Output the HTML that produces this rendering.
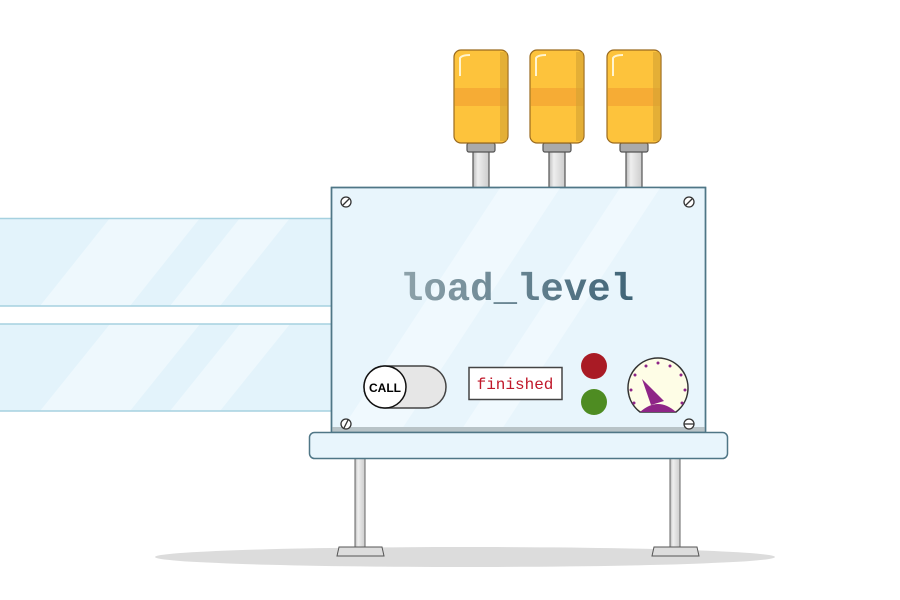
<!DOCTYPE html>
<html><head><meta charset="utf-8"><style>html,body{margin:0;padding:0;background:#fff}svg{display:block}</style></head>
<body>
<svg width="900" height="600" viewBox="0 0 900 600" xmlns="http://www.w3.org/2000/svg">
<defs>
<linearGradient id="tg" x1="0" x2="1"><stop offset="0" stop-color="#8fa3ab"/><stop offset="1" stop-color="#3f6477"/></linearGradient>
<linearGradient id="post" x1="0" x2="1"><stop offset="0" stop-color="#bbb"/><stop offset="0.3" stop-color="#eee"/><stop offset="1" stop-color="#ccc"/></linearGradient>
</defs>
<ellipse cx="465" cy="557" rx="310" ry="10" fill="#dcdcdc"/>
<g>
<rect x="0" y="218" width="332" height="88" fill="#e3f3fb"/>
<polygon points="110,218 200,218 130,306 40,306" fill="#eef8fd"/>
<polygon points="240,218 290,218 220,306 170,306" fill="#eef8fd"/>
<line x1="0" y1="218.5" x2="332" y2="218.5" stroke="#a6d1e0" stroke-width="1.5"/>
<line x1="0" y1="306" x2="332" y2="306" stroke="#a6d1e0" stroke-width="1.5"/>
<rect x="0" y="324" width="332" height="87" fill="#e3f3fb"/>
<polygon points="110,324 200,324 130,411 40,411" fill="#eef8fd"/>
<polygon points="240,324 290,324 220,411 170,411" fill="#eef8fd"/>
<line x1="0" y1="324" x2="332" y2="324" stroke="#a6d1e0" stroke-width="1.5"/>
<line x1="0" y1="411" x2="332" y2="411" stroke="#a6d1e0" stroke-width="1.5"/>
</g>
<g stroke="#555" stroke-width="1.2">
<g id="L">
<rect x="473" y="150" width="16" height="38" fill="url(#post)"/>
<rect x="467" y="143" width="28" height="9" rx="2" fill="#aaa"/>
<rect x="454" y="50" width="54" height="93" rx="7" fill="#fdc33c" stroke="#9a6a1f"/>
<rect x="455" y="88" width="52" height="18" fill="#f6ac35" stroke="none"/>
<rect x="500" y="52" width="7" height="89" fill="#d4a232" stroke="none" opacity="0.6"/>
<path d="M460 76 L460 58 Q462 55 470 55" fill="none" stroke="#fff4d0" stroke-width="2"/>
</g>
<use href="#L" x="76"/>
<use href="#L" x="153"/>
</g>
<rect x="355" y="458" width="10" height="90" fill="url(#post)" stroke="#666"/>
<rect x="670" y="458" width="10" height="90" fill="url(#post)" stroke="#666"/>
<path d="M337 556 L339 547 L382 547 L384 556 Z" fill="#ddd" stroke="#555"/>
<path d="M652 556 L654 547 L697 547 L699 556 Z" fill="#ddd" stroke="#555"/>
<rect x="331.5" y="187.5" width="374" height="245" fill="#e8f5fc" stroke="#4f7686" stroke-width="1.5"/>
<polygon points="500,188 560,188 400,432 340,432" fill="#f0f9fe"/>
<polygon points="620,188 660,188 500,432 460,432" fill="#f0f9fe"/>
<rect x="332" y="427" width="373" height="5" fill="#b8c3c7"/>
<rect x="331.5" y="187.5" width="374" height="245" fill="none" stroke="#4f7686" stroke-width="1.5"/>
<g fill="#fff" stroke="#333" stroke-width="1.3">
<circle cx="346" cy="202" r="5"/><line x1="343" y1="205" x2="349" y2="199"/>
<circle cx="689" cy="202" r="5"/><line x1="686" y1="205" x2="692" y2="199"/>
<circle cx="346" cy="424" r="5"/><line x1="344" y1="428" x2="348" y2="420"/>
<circle cx="689" cy="424" r="5"/><line x1="684" y1="424" x2="694" y2="424"/>
</g>
<text x="517" y="300" text-anchor="middle" font-family="Liberation Mono, monospace" font-weight="bold" font-size="39" fill="url(#tg)">load_level</text>
<rect x="309.5" y="432.5" width="418" height="26" rx="5" fill="#e8f5fc" stroke="#4f7686" stroke-width="1.5"/>
<rect x="364" y="366" width="82" height="42" rx="21" fill="#e6e6e6" stroke="#444" stroke-width="1.5"/>
<circle cx="385" cy="387" r="21" fill="#fff" stroke="#111" stroke-width="1.5"/>
<text x="385" y="392" text-anchor="middle" font-family="Liberation Sans, sans-serif" font-weight="bold" font-size="12" fill="#000">CALL</text>
<rect x="469" y="367.5" width="93" height="32" fill="#fff" stroke="#444" stroke-width="1.5"/>
<text x="515" y="389" text-anchor="middle" font-family="Liberation Mono, monospace" font-size="16" fill="#c0182a">finished</text>
<circle cx="594" cy="366" r="13" fill="#a91b25"/>
<circle cx="594" cy="402" r="13" fill="#4e8c22"/>
<path d="M640 412 A30 30 0 1 1 676 412 Z" fill="#fefde6" stroke="#333" stroke-width="1.5"/>
<path d="M640 412 Q658 396 676 412 Z" fill="#8e2587"/>
<polygon points="642,379 664,401 651,405" fill="#8e2587"/>
<g fill="#8e2587">
<circle cx="631" cy="390" r="1.5"/><circle cx="635" cy="375" r="1.5"/><circle cx="646" cy="366" r="1.5"/><circle cx="658" cy="363" r="1.5"/><circle cx="670" cy="366" r="1.5"/><circle cx="681" cy="375" r="1.5"/><circle cx="685" cy="390" r="1.5"/><circle cx="682" cy="403" r="1.5"/><circle cx="634" cy="403" r="1.5"/>
</g>
</svg>
</body></html>
